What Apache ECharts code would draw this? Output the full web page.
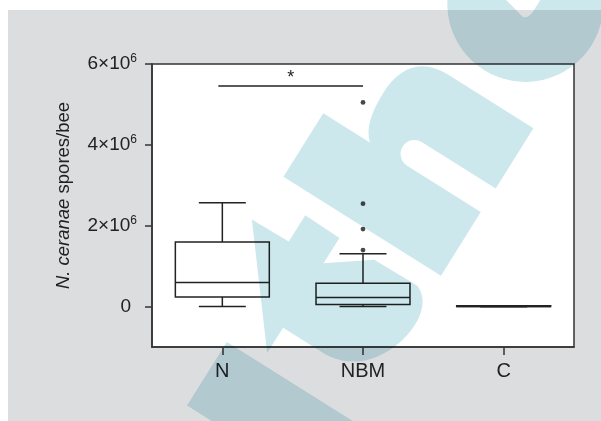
<!DOCTYPE html>
<html>
<head>
<meta charset="utf-8">
<script src="https://cdn.jsdelivr.net/npm/echarts@6/dist/echarts.min.js"></script>
<style>
  html, body { margin: 0; padding: 0; background: #fff; }
  #wrap { position: relative; width: 601px; height: 421px; }
  #chart, #stamp { position: absolute; left: 0; top: 0; width: 601px; height: 421px; }
  #stamp { mix-blend-mode: multiply; pointer-events: none; }
</style>
</head>
<body>
<div id="wrap">
  <div id="chart"></div>
  <div id="stamp"></div>
</div>
<script>
// Spore counts per group (five-number summaries)
const categories   = ['N', 'NBM', 'C'];
const whiskerLow   = [0, 0, 0];
const quartile1    = [0.238e6, 0.05e6, 0];
const medians      = [0.595e6, 0.223e6, 0];
const quartile3    = [1.595e6, 0.579e6, 0];
const whiskerHigh  = [2.57e6, 1.306e6, 0];

// Points beyond the whiskers
const outlierGroups = ['NBM', 'NBM', 'NBM', 'NBM'];
const outlierValues = [5.05e6, 2.546e6, 1.917e6, 1.397e6];

// Y axis ticks
const yTickValues    = [0, 2e6, 4e6, 6e6];
const yTickMantissas = ['0', '2', '4', '6'];
const yTickExponent  = '6';

// Significance bracket
const sigFrom = 'N';
const sigTo = 'NBM';
const sigLevel = 5.455e6;
const sigMark = '*';

const titleItalic = 'N. ceranae';
const titleRest = ' spores/bee';

const INK = '#222222';
const FONT = "'Liberation Sans', Arial, sans-serif";

function renderBox(params, api) {
  const i = api.value(0);
  const x = api.coord([i, 0])[0];
  const band = api.size([1, 0])[0];
  const half = band * 0.334;
  const capHalf = half / 2;
  const yLo = api.coord([i, api.value(1)])[1];
  const yQ1 = api.coord([i, api.value(2)])[1];
  const yMed = api.coord([i, api.value(3)])[1];
  const yQ3 = api.coord([i, api.value(4)])[1];
  const yHi = api.coord([i, api.value(5)])[1];
  const ls = { stroke: INK, lineWidth: 1.5, fill: 'none' };
  // a collapsed box still shows as a heavy bar
  const h = Math.max(yQ1 - yQ3, 0.8);
  return {
    type: 'group',
    children: [
      { type: 'line', shape: { x1: x, y1: yQ3, x2: x, y2: yHi }, style: ls },
      { type: 'line', shape: { x1: x, y1: yQ1, x2: x, y2: yLo }, style: ls },
      { type: 'line', shape: { x1: x - capHalf, y1: yHi, x2: x + capHalf, y2: yHi }, style: ls },
      { type: 'line', shape: { x1: x - capHalf, y1: yLo, x2: x + capHalf, y2: yLo }, style: ls },
      { type: 'rect', shape: { x: x - half, y: yQ1 - h, width: half * 2, height: h }, style: ls },
      { type: 'line', shape: { x1: x - half, y1: yMed, x2: x + half, y2: yMed }, style: ls }
    ]
  };
}

function renderBracket(params, api) {
  const x1 = api.coord([api.value(0), api.value(2)])[0] - 4;
  const x2 = api.coord([api.value(1), api.value(2)])[0];
  const y = api.coord([api.value(0), api.value(2)])[1];
  return {
    type: 'group',
    children: [
      { type: 'line', shape: { x1: x1, y1: y, x2: x2, y2: y }, style: { stroke: INK, lineWidth: 1.5 } },
      { type: 'text', x: (x1 + x2) / 2, y: y - 8,
        style: { text: sigMark, fill: INK, fontSize: 18, fontFamily: FONT, align: 'center', verticalAlign: 'middle' } }
    ]
  };
}

const chart = echarts.init(document.getElementById('chart'), null, { renderer: 'canvas' });

chart.setOption({
  backgroundColor: '#ffffff',
  animation: false,
  textStyle: { fontFamily: FONT },
  grid: { left: 152, right: 27, top: 64, bottom: 74, show: true, backgroundColor: '#ffffff', borderColor: '#333', borderWidth: 1.5 },
  graphic: [
    { type: 'rect', z: -10, shape: { x: 8, y: 10, width: 593, height: 411 }, style: { fill: '#dcdddf' } }
  ],
  xAxis: {
    type: 'category',
    data: categories,
    boundaryGap: true,
    axisLine: { show: true, onZero: false, lineStyle: { color: '#333', width: 1.5 } },
    axisTick: { show: true, alignWithLabel: true, length: 8, lineStyle: { color: '#333', width: 1.5 } },
    axisLabel: { fontSize: 20, color: INK, margin: 14 },
    splitLine: { show: false }
  },
  yAxis: {
    type: 'value',
    min: -1e6,
    max: 6e6,
    axisLine: { show: true, lineStyle: { color: '#333', width: 1.5 } },
    axisTick: { show: true, length: 7, customValues: yTickValues, lineStyle: { color: '#333', width: 1.5 } },
    axisLabel: {
      customValues: yTickValues,
      margin: 15,
      formatter: function (v) {
        const k = yTickValues.indexOf(v);
        const m = yTickMantissas[k];
        if (m === '0') return '{z|0}';
        return '{b|' + m + '×10}{s|' + yTickExponent + '}';
      },
      rich: {
        z: { fontSize: 19, color: INK, padding: [0, 6, 0, 0] },
        b: { fontSize: 19, color: INK },
        s: { fontSize: 12, color: INK, padding: [0, 0, 10, 0] }
      }
    },
    splitLine: { show: false },
    name: '{i|' + titleItalic + '}{r|' + titleRest + '}',
    nameLocation: 'middle',
    nameGap: 79,
    nameRotate: 90,
    nameTextStyle: {
      padding: [0, 0, 0, 20],
      rich: {
        i: { fontSize: 18.5, fontStyle: 'italic', color: INK },
        r: { fontSize: 18.5, color: INK }
      }
    }
  },
  series: [
    {
      type: 'custom',
      renderItem: renderBox,
      encode: { x: 0, y: [1, 2, 3, 4, 5] },
      data: categories.map((c, i) => [i, whiskerLow[i], quartile1[i], medians[i], quartile3[i], whiskerHigh[i]]),
      z: 3
    },
    {
      type: 'scatter',
      symbol: 'circle',
      symbolSize: 4.8,
      itemStyle: { color: '#1a1a1a' },
      data: outlierGroups.map((g, k) => [g, outlierValues[k]]),
      z: 4
    },
    {
      type: 'custom',
      renderItem: renderBracket,
      encode: { x: [0, 1], y: 2 },
      data: [[categories.indexOf(sigFrom), categories.indexOf(sigTo), sigLevel]],
      z: 4
    }
  ]
});

// Rotated "the" stamp laid over the figure (multiplied onto it via CSS),
// letter frame: x along the baseline, y downward
const stampColor = '#cde8ed';
const stampPaths = [
  'M -244 374 L -169 374 L -169 640 L -244 640 Z',
  'M -157 414 L -52 330 L -51 373 L -20 373 L -21 414 L -51 414 L -21 455 L -20 505 C -25 519 -40 525 -57 524 C -85 523 -110 507 -119 490 C -125 480 -127 470 -127 460 L -127 414 Z',
  'M 1 334 L 76 334 L 76 389 C 86 378 102 374 125 374 C 158 374 175 390 175 420 L 175 520 L 104 520 L 104 433 A 14 14 0 0 0 76 433 L 76 520 L 1 520 Z',
  'M 198 447 A 78 78 0 1 1 354 447 A 78 78 0 1 1 198 447 Z ' +
  'M 275 400 C 272 415 268 435 264 450 Q 263 456 272 457.5 L 340 458 L 340 380 Z'
];

const stamp = echarts.init(document.getElementById('stamp'), null, { renderer: 'canvas' });
stamp.setOption({
  backgroundColor: 'transparent',
  animation: false,
  series: [{
    type: 'custom',
    coordinateSystem: 'none',
    silent: true,
    data: [[0]],
    renderItem: function () {
      return {
        type: 'group',
        x: 0, y: 0,
        rotation: 57.88 * Math.PI / 180,
        children: stampPaths.map(d => ({
          type: 'path',
          shape: { pathData: d },
          style: { fill: stampColor }
        }))
      };
    }
  }]
});
</script>
</body>
</html>
